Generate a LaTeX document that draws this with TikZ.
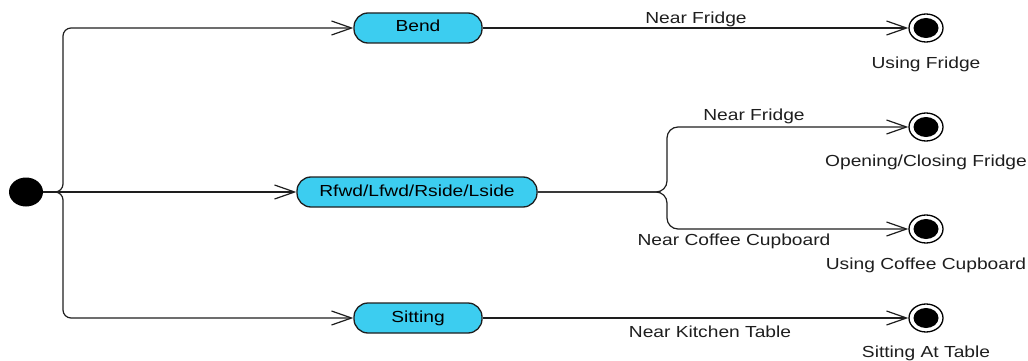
\documentclass[tikz,border=0pt]{standalone}
\usepackage{fontspec}
\setmainfont{Liberation Sans}[FakeStretch=1.2]
\usetikzlibrary{arrows.meta,shapes.geometric}
\definecolor{statefill}{RGB}{60,205,240}
\definecolor{ink}{RGB}{30,30,30}
\begin{document}
\begin{tikzpicture}[x=1pt,y=-1pt,
  font=\fontsize{16}{19}\selectfont,
  state/.style={draw=ink, fill=statefill, line width=1.3pt, rounded corners=14pt,
    minimum height=30pt, inner sep=0pt, text height=8pt, text depth=0pt},
  init/.style={ellipse, fill=black, minimum width=34pt, minimum height=29pt, inner sep=0pt},
  final/.style={ellipse, draw=black, fill=white, line width=1.3pt,
    minimum width=34pt, minimum height=28pt, inner sep=0pt,
    path picture={\fill[black] (path picture bounding box.center)
      ellipse [x radius=12.5pt, y radius=10pt];}},
  trans/.style={draw=ink, line width=1.2pt,
    -{Straight Barb[length=20pt,width=14pt]}},
  lbl/.style={anchor=base, inner sep=0pt, text=ink}
]
\useasboundingbox (0,0) rectangle (1028,361);

% states
\node[init] (i) at (26,192) {};
\node[state, minimum width=128pt] (bend) at (418,28) {Bend};
\node[state, minimum width=240pt] (rf) at (417,192) {Rfwd/Lfwd/Rside/Lside};
\node[state, minimum width=128pt] (sit) at (418,318) {Sitting};

% final states
\node[final] (f1) at (926,28) {};
\node[final] (f2) at (926,127) {};
\node[final] (f3) at (926,229) {};
\node[final] (f4) at (926,318) {};

% final state names
\node[lbl] (n1) at (926,68) {Using Fridge};
\node[lbl] (n2) at (926,166.5) {Opening/Closing Fridge};
\node[lbl] (n3) at (926,269) {Using Coffee Cupboard};
\node[lbl] (n4) at (926,357) {Sitting At Table};

% transitions from the initial state
\draw[trans, rounded corners=8pt] (i.east) -- (63,192) -- (63,28) -- (bend.west);
\draw[trans] (i.east) -- (rf.west);
\draw[trans, rounded corners=8pt] (i.east) -- (63,192) -- (63,318) -- (sit.west);

% transitions to the final states
\draw[trans] (bend.east) -- (f1.west);
\draw[trans, rounded corners=11pt] (rf.east) -- (667,192) -- (667,127) -- (f2.west);
\draw[trans, rounded corners=11pt] (rf.east) -- (667,192) -- (667,229) -- (f3.west);
\draw[trans] (sit.east) -- (f4.west);

% guards
\node[lbl] (g1) at (696,24) {Near Fridge};
\node[lbl] (g2) at (754,121) {Near Fridge};
\node[lbl] (g3) at (734,245.5) {Near Coffee Cupboard};
\node[lbl] (g4) at (710,337.5) {Near Kitchen Table};
\end{tikzpicture}
\end{document}
